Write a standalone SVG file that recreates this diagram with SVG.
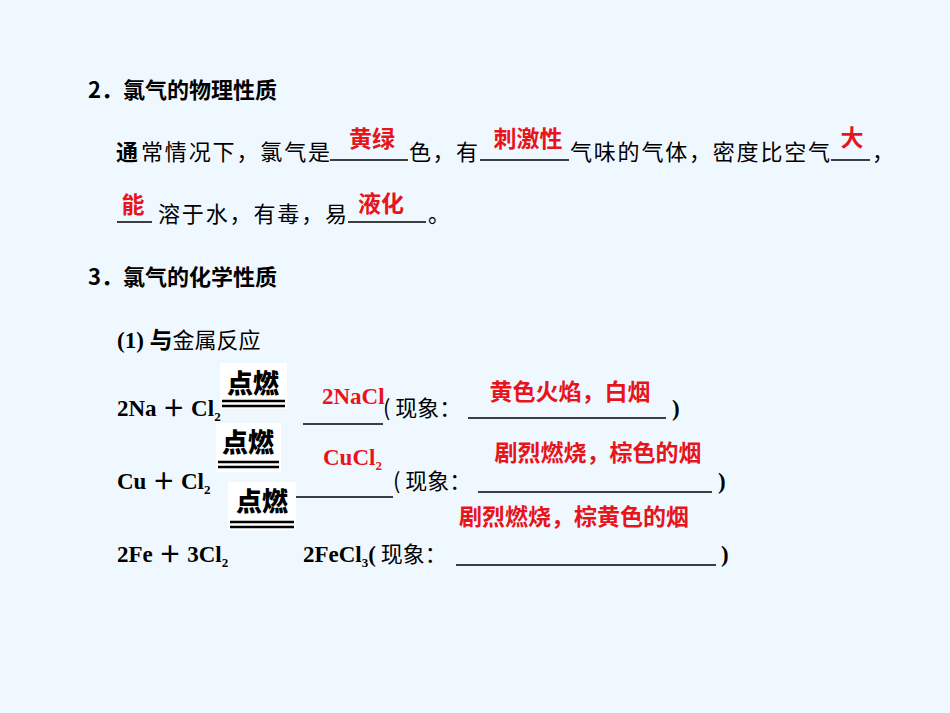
<svg xmlns="http://www.w3.org/2000/svg" width="950" height="713" viewBox="0 0 950 713">
<style>
.t{font-family:"Noto Sans CJK SC",sans-serif;font-size:22px;fill:#000}
.b{font-weight:bold}
.r{font-family:"Noto Sans CJK SC",sans-serif;font-size:23px;font-weight:bold;fill:#e8141b}
.m{font-family:"Liberation Serif","Noto Sans CJK SC",serif;font-size:23px;font-weight:bold;fill:#000}
.mr{font-family:"Liberation Serif",serif;font-size:23px;font-weight:bold;fill:#e8141b}
.u{stroke:#000;stroke-width:1.3}
.d{stroke:#000;stroke-width:2.5}
.k{font-family:"Noto Sans CJK SC",sans-serif;font-size:26px;font-weight:900;fill:#000}
</style>
<rect width="950" height="713" fill="#f0f8ff"/>
<g id="sec2">
<text class="t b" x="88" y="98">2．氯气的物理性质</text>
<text class="t b" x="116" y="160">通</text>
<text class="t" x="141" y="160" textLength="189">常情况下，氯气是</text>
<line class="u" x1="330" y1="160" x2="408" y2="160"/>
<text class="t" x="409" y="160" textLength="69">色，有</text>
<line class="u" x1="480" y1="160" x2="569" y2="160"/>
<text class="t" x="570" y="160" textLength="260">气味的气体，密度比空气</text>
<line class="u" x1="831" y1="160" x2="870" y2="160"/>
<text class="t" x="872" y="160">，</text>
<text class="r" x="372" y="147" text-anchor="middle">黄绿</text>
<text class="r" x="528" y="147" text-anchor="middle">刺激性</text>
<text class="r" x="852" y="146" text-anchor="middle">大</text>
<line class="u" x1="117" y1="222" x2="152" y2="222"/>
<text class="r" x="133" y="213" text-anchor="middle">能</text>
<text class="t" x="158" y="222" textLength="189">溶于水，有毒，易</text>
<line class="u" x1="348" y1="222" x2="426" y2="222"/>
<text class="t" x="428" y="222">。</text>
<text class="r" x="381" y="212" text-anchor="middle">液化</text>
</g>
<g id="sec3">
<text class="t b" x="88" y="285">3．氯气的化学性质</text>
<text class="m" x="117" y="348">(1) 与<tspan class="t" style="font-weight:normal">金属反应</tspan></text>
</g>
<g id="eq1">
<rect x="220" y="363" width="67" height="46" fill="#fff"/>
<text class="k" x="253" y="393" text-anchor="middle">点燃</text>
<line class="d" x1="222" y1="401" x2="285" y2="401"/>
<line class="d" x1="222" y1="406" x2="285" y2="406"/>
<text class="m" x="117" y="416">2Na ＋ Cl<tspan font-size="13" dy="5">2</tspan></text>
<line class="u" x1="303" y1="424" x2="383" y2="424"/>
<text class="mr" x="322" y="404">2NaCl</text>
<text class="t" x="383" y="416">( 现象：</text>
<line class="u" x1="468" y1="418" x2="666" y2="418"/>
<text class="m" x="672" y="416">)</text>
<text class="r" x="570" y="400" text-anchor="middle">黄色火焰，白烟</text>
</g>
<g id="eq2">
<rect x="216" y="423" width="65" height="49" fill="#fff"/>
<text class="k" x="248" y="452" text-anchor="middle">点燃</text>
<line class="d" x1="218" y1="462" x2="279" y2="462"/>
<line class="d" x1="218" y1="467" x2="279" y2="467"/>
<text class="m" x="117" y="489">Cu ＋ Cl<tspan font-size="13" dy="5">2</tspan></text>
<text class="mr" x="323" y="465">CuCl<tspan font-size="13" dy="5">2</tspan></text>
<line class="u" x1="296" y1="497" x2="393" y2="497"/>
<text class="t" x="393" y="489">( 现象：</text>
<line class="u" x1="478" y1="492" x2="712" y2="492"/>
<text class="m" x="718" y="489">)</text>
<text class="r" x="598" y="461" text-anchor="middle">剧烈燃烧，棕色的烟</text>
</g>
<g id="eq3">
<rect x="228" y="482" width="68" height="48" fill="#fff"/>
<text class="k" x="262" y="511" text-anchor="middle">点燃</text>
<line class="d" x1="230" y1="522" x2="294" y2="522"/>
<line class="d" x1="230" y1="527" x2="294" y2="527"/>
<text class="r" x="574" y="525" text-anchor="middle">剧烈燃烧，棕黄色的烟</text>
<text class="m" x="117" y="562">2Fe ＋ 3Cl<tspan font-size="13" dy="5">2</tspan></text>
<text class="m" x="303" y="562">2FeCl<tspan font-size="13" dy="5">3</tspan><tspan dy="-5">(</tspan><tspan class="t" style="font-weight:normal"> 现象：</tspan></text>
<line class="u" x1="456" y1="565" x2="716" y2="565"/>
<text class="m" x="721" y="562">)</text>
</g>
</svg>
